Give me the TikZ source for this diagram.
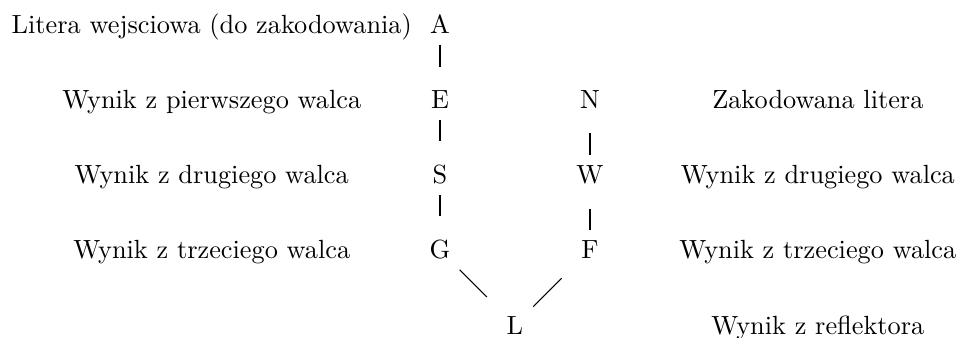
\documentclass[tikz,border=0pt]{standalone}
\begin{document}
\begin{tikzpicture}[
  lbl/.style={anchor=base},
  letter/.style={anchor=base},
  conn/.style={draw, shorten >=5.6pt, shorten <=0.5pt}
]
\useasboundingbox (0,0) rectangle (12.83,-4.517);
% left labels
\node[lbl] (t1) at (2.83,-0.454) {Litera wejsciowa (do zakodowania)};
\node[lbl] (t2) at (2.83,-1.456) {Wynik z pierwszego walca};
\node[lbl] (t3) at (2.83,-2.459) {Wynik z drugiego walca};
\node[lbl] (t4) at (2.83,-3.461) {Wynik z trzeciego walca};
% right labels
\node[lbl] (r1) at (10.93,-1.456) {Zakodowana litera};
\node[lbl] (r2) at (10.93,-2.459) {Wynik z drugiego walca};
\node[lbl] (r3) at (10.93,-3.461) {Wynik z trzeciego walca};
\node[lbl] (r4) at (10.93,-4.464) {Wynik z reflektora};
% letters
\node[letter] (a) at (5.88,-0.454) {A};
\node[letter] (e) at (5.88,-1.456) {E};
\node[letter] (s) at (5.88,-2.459) {S};
\node[letter] (g) at (5.88,-3.461) {G};
\node[letter] (l) at (6.88,-4.464) {L};
\node[letter] (f) at (7.885,-3.461) {F};
\node[letter] (w) at (7.885,-2.459) {W};
\node[letter] (n) at (7.885,-1.456) {N};
% connectors
\draw[conn] (a) -- (e);
\draw[conn] (e) -- (s);
\draw[conn] (s) -- (g);
\draw[conn] (g) -- (l);
\draw[conn] (l) -- (f);
\draw[conn] (f) -- (w);
\draw[conn] (w) -- (n);
\end{tikzpicture}
\end{document}
